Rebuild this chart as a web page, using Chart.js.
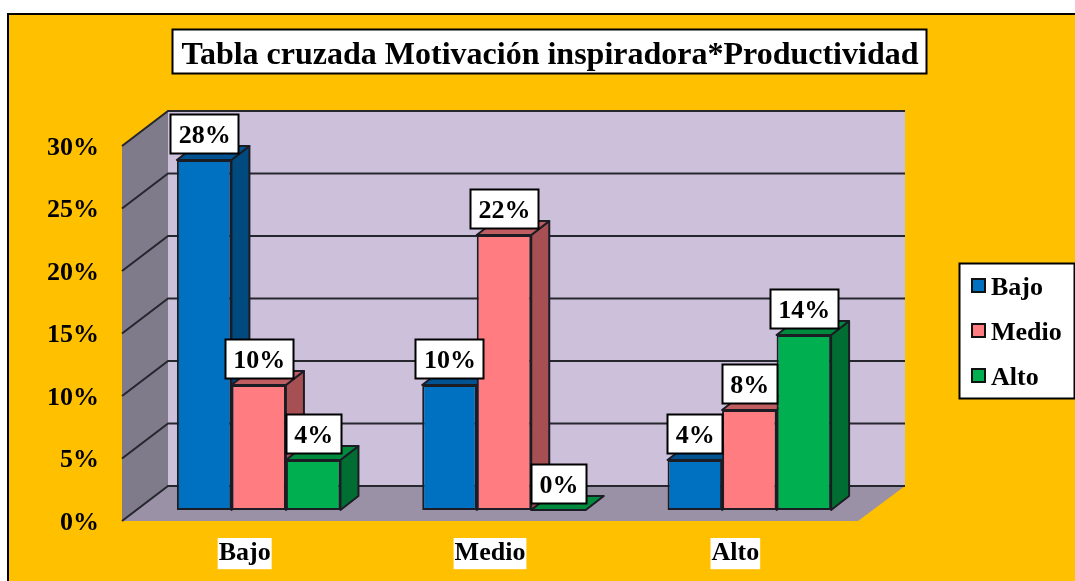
<!DOCTYPE html>
<html><head><meta charset="utf-8">
<style>html,body{margin:0;padding:0;background:#fff;overflow:hidden}#w{position:relative;width:1075px;height:581px}canvas{display:block;filter:blur(0.45px)}</style>
<script src="https://cdn.jsdelivr.net/npm/chart.js@4"></script>
</head><body><div id="w"><canvas id="c" width="1075" height="581"></canvas></div>
<script>
const titleText = 'Tabla cruzada Motivación inspiradora*Productividad';
const categories = ['Bajo', 'Medio', 'Alto'];
const seriesNames = ['Bajo', 'Medio', 'Alto'];
const bajoValues = [28, 10, 4];
const medioValues = [10, 22, 8];
const altoValues = [4, 0, 14];
const faceColors = ['#0070C0', '#FF7C80', '#00B050'];
const sideColors = ['#004A80', '#A65053', '#006E32'];
const topColors = ['#005390', '#BF5D60', '#008A3E'];

const FONT = '"Liberation Serif", "Times New Roman", serif';
const WALL = {dx: 46, dy: -35};
const BAR_OFF = {dx: 14, dy: -11};
const BAR_D = {dx: 18, dy: -14};
const EDGE = '#1c1c24';

function poly(ctx, pts, fill, stroke, lw) {
  ctx.beginPath();
  pts.forEach((p, i) => i ? ctx.lineTo(p[0], p[1]) : ctx.moveTo(p[0], p[1]));
  ctx.closePath();
  if (fill) { ctx.fillStyle = fill; ctx.fill(); }
  if (stroke) { ctx.strokeStyle = stroke; ctx.lineWidth = lw || 1; ctx.lineJoin = 'round'; ctx.stroke(); }
}
function box(ctx, x, y, w, h, lw) {
  ctx.fillStyle = '#fff';
  ctx.fillRect(x, y, w, h);
  ctx.strokeStyle = '#000';
  ctx.lineWidth = lw || 2;
  ctx.strokeRect(x, y, w, h);
}

const scene3d = {
  id: 'scene3d',
  beforeDraw(chart) {
    const ctx = chart.ctx;
    ctx.save();
    ctx.fillStyle = '#fff';
    ctx.fillRect(0, 0, chart.width, chart.height);
    ctx.fillStyle = '#FFC000';
    ctx.fillRect(8, 14, chart.width - 8, chart.height - 14);
    ctx.strokeStyle = '#000';
    ctx.lineWidth = 2;
    ctx.beginPath();
    ctx.moveTo(8, chart.height); ctx.lineTo(8, 14); ctx.lineTo(chart.width, 14);
    ctx.stroke();
    // title
    box(ctx, 172.5, 29.5, 754, 44, 2);
    ctx.fillStyle = '#000';
    ctx.font = 'bold 32px ' + FONT;
    ctx.textAlign = 'center';
    ctx.textBaseline = 'middle';
    ctx.fillText(titleText, 550, 56);
    // walls
    const {left, right, top, bottom} = chart.chartArea;
    const d = WALL;
    poly(ctx, [[left + d.dx, top + d.dy], [right + d.dx + 1, top + d.dy], [right + d.dx + 1, bottom + d.dy], [left + d.dx, bottom + d.dy]], '#CCC0DA');
    poly(ctx, [[left, top], [left + d.dx, top + d.dy], [left + d.dx, bottom + d.dy], [left, bottom]], '#807B8B');
    poly(ctx, [[left, bottom], [right, bottom], [right + d.dx + 1, bottom + d.dy], [left + d.dx, bottom + d.dy]], '#9B91A6');
    // grid lines from the value axis
    const y = chart.scales.y;
    ctx.strokeStyle = '#26262e';
    ctx.lineWidth = 2;
    y.ticks.forEach(t => {
      const py = y.getPixelForValue(t.value);
      ctx.beginPath();
      ctx.moveTo(left, py);
      ctx.lineTo(left + d.dx, py + d.dy);
      ctx.lineTo(right + d.dx + 1, py + d.dy);
      ctx.stroke();
    });
    ctx.restore();
  },
  beforeDatasetsDraw(chart) {
    const ctx = chart.ctx;
    ctx.save();
    ctx.translate(BAR_OFF.dx, BAR_OFF.dy);
    chart.data.datasets.forEach((ds, i) => {
      chart.getDatasetMeta(i).data.forEach(bar => {
        const l = bar.x - bar.width / 2, r = bar.x + bar.width / 2, t = bar.y, b = bar.base;
        const a = BAR_D.dx, c = BAR_D.dy;
        if (b - t > 0.5) poly(ctx, [[r, t], [r + a, t + c], [r + a, b + c], [r, b]], sideColors[i], EDGE, 2);
        poly(ctx, [[l, t], [l + a, t + c], [r + a, t + c], [r, t]], topColors[i], EDGE, 2);
      });
    });
    // the native bars are drawn next, inside this shifted frame
  },
  afterDatasetsDraw(chart) {
    const ctx = chart.ctx;
    ctx.restore();
    ctx.save();
    ctx.font = 'bold 26px ' + FONT;
    ctx.textAlign = 'center';
    ctx.textBaseline = 'middle';
    const items = [];
    chart.data.datasets.forEach((ds, i) => {
      chart.getDatasetMeta(i).data.forEach((bar, j) => {
        items.push({x: bar.x + BAR_OFF.dx, y: bar.y + BAR_OFF.dy, t: ds.data[j] + '%'});
      });
    });
    items.forEach(o => {
      const w = ctx.measureText(o.t).width + 16, h = 39;
      const bx = Math.round(o.x - w / 2) + 0.5, by = Math.round(o.y - 7 - h) + 0.5;
      box(ctx, bx, by, w, h, 2);
      ctx.fillStyle = '#000';
      ctx.fillText(o.t, o.x + 0.5, by + h / 2 + 2);
    });
    // legend
    box(ctx, 959.5, 263.5, 115, 135, 2);
    ctx.textAlign = 'left';
    seriesNames.forEach((n, i) => {
      const cy = 286 + i * 45;
      ctx.fillStyle = faceColors[i];
      ctx.fillRect(972, cy - 7, 13, 13);
      ctx.strokeStyle = '#111';
      ctx.lineWidth = 2;
      ctx.strokeRect(972, cy - 7, 13, 13);
      ctx.fillStyle = '#000';
      ctx.fillText(n, 991, cy + 2);
    });
    ctx.restore();
  }
};

new Chart(document.getElementById('c'), {
  type: 'bar',
  data: {
    labels: categories,
    datasets: [bajoValues, medioValues, altoValues].map((vals, i) => ({
      label: seriesNames[i],
      data: vals,
      backgroundColor: faceColors[i],
      borderColor: EDGE,
      borderWidth: 2,
      borderSkipped: false,
      clip: false,
      categoryPercentage: 2 / 3,
      barPercentage: 1
    }))
  },
  options: {
    responsive: false,
    animation: false,
    layout: {padding: {left: 0, right: 217, top: 146, bottom: 0}},
    plugins: {legend: {display: false}, title: {display: false}, tooltip: {enabled: false}},
    scales: {
      x: {
        grid: {display: false, drawTicks: false},
        border: {display: false},
        afterFit(s) { s.height = 60; },
        ticks: {
          color: '#000', padding: 17,
          font: {family: FONT, size: 26, weight: 'bold'},
          showLabelBackdrop: true, backdropColor: '#fff', backdropPadding: {x: 1, y: 0},
          maxRotation: 0
        }
      },
      y: {
        min: 0, max: 30,
        grid: {display: false, drawTicks: false},
        border: {display: false},
        afterFit(s) { s.width = 122; },
        ticks: {
          stepSize: 5, color: '#000', padding: 23, labelOffset: 2,
          font: {family: FONT, size: 26, weight: 'bold'},
          callback: v => v + '%'
        }
      }
    }
  },
  plugins: [scene3d]
});
</script></body></html>
